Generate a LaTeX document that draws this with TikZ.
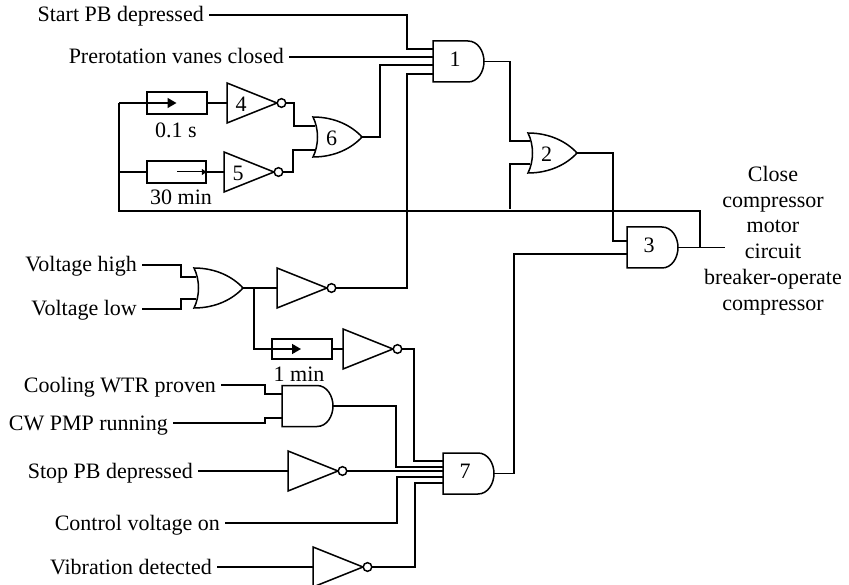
\documentclass[tikz,border=0pt]{standalone}
\usepackage{fontspec}
\setmainfont{Liberation Serif}
\usetikzlibrary{arrows.meta}
\tikzset{
    wire/.style={line width=1.5pt},
    gateline/.style={line width=1.5pt, fill=white},
    lbl/.style={inner xsep=5pt, inner ysep=0pt, text height=16pt, text depth=2pt, anchor=east},
    gatenum/.style={inner sep=0pt},
    bigtip/.style={-{Triangle[length=9pt,width=10pt]}},
    smalltip/.style={-{Triangle[length=5pt,width=6pt]}}
}
% name, left x, centre y, label
\newcommand{\andgate}[4]{
    \begin{scope}[shift={(#2,#3)}]
        \draw[gateline] (0,-20.5) -- (35,-20.5) .. controls (45,-20.5) and (51,-10) .. (51,0)
            .. controls (51,10) and (45,20.5) .. (35,20.5) -- (0,20.5) -- cycle;
        \node[gatenum] (#1) at (22,-2) {#4};
        \coordinate (#1out) at (51,0);
    \end{scope}
}
\newcommand{\orgate}[4]{
    \begin{scope}[shift={(#2,#3)}]
        \draw[gateline] (0,-20) .. controls (22,-20) and (39,-11) .. (49,0)
            .. controls (39,11) and (22,20) .. (0,20) .. controls (6,8) and (6,-8) .. (0,-20) -- cycle;
        \node[gatenum] (#1) at (18.5,1) {#4};
        \coordinate (#1out) at (49,0);
    \end{scope}
}
\newcommand{\notgate}[4]{
    \begin{scope}[shift={(#2,#3)}]
        \draw[gateline] (0,-20) -- (50,0) -- (0,20) -- cycle;
        \draw[gateline] (54.5,0) circle (4.3);
        \node[gatenum] (#1) at (14,1) {#4};
        \coordinate (#1in) at (0,0);
        \coordinate (#1out) at (58.8,0);
    \end{scope}
}
\begin{document}
\begin{tikzpicture}[x=1pt, y=-1pt, font=\fontsize{22}{26}\selectfont]
    \useasboundingbox (0,0) rectangle (849,585);

    % Gates
    \andgate{gone}{433}{61.5}{1}
    \orgate{gtwo}{528}{153}{2}
    \andgate{gthree}{627}{247.5}{3}
    \notgate{gfour}{227}{103}{4}
    \notgate{gfive}{224}{172}{5}
    \orgate{gsix}{313}{137}{6}
    \andgate{gseven}{443}{473.5}{7}
    \orgate{gvolt}{194}{288}{}
    \notgate{nvolt}{277}{288}{}
    \notgate{ndelay}{343}{349}{}
    \andgate{gcool}{282}{406}{}
    \notgate{nstop}{288}{471}{}
    \notgate{nvib}{313}{567}{}

    % Delay boxes
    \node[draw, line width=1.5pt, minimum width=60pt, minimum height=22pt, inner sep=0pt] (dfast) at (177,103) {};
    \node[draw, line width=1.5pt, minimum width=59pt, minimum height=22pt, inner sep=0pt] (dslow) at (176.5,172) {};
    \node[draw, line width=1.5pt, minimum width=60pt, minimum height=20pt, inner sep=0pt] (dmin) at (302,349) {};
    \node[inner sep=0pt] (tfast) at (176,130) {0.1 s};
    \node[inner sep=0pt] (tslow) at (181,197.5) {30 min};
    \node[inner sep=0pt] (tmin) at (299,374) {1 min};

    % Input labels
    \node[lbl] (startpb) at (209,15) {Start PB depressed};
    \node[lbl] (prerot) at (289,57) {Prerotation vanes closed};
    \node[lbl] (vhigh) at (142,265) {Voltage high};
    \node[lbl] (vlow) at (142,309) {Voltage low};
    \node[lbl] (cooling) at (221,385) {Cooling WTR proven};
    \node[lbl] (cwpmp) at (173,423) {CW PMP running};
    \node[lbl] (stoppb) at (198,471) {Stop PB depressed};
    \node[lbl] (control) at (225,523) {Control voltage on};
    \node[lbl] (vibration) at (217,567) {Vibration detected};

    % Output label
    \node[align=center, inner sep=0pt, font=\fontsize{22}{25.8}\selectfont] (closecb) at (773,240.5) {Close\\compressor\\motor\\circuit\\breaker-operate\\compressor};

    % Pins
    \coordinate (gonea) at (433,49);
    \coordinate (goneb) at (433,57);
    \coordinate (gonec) at (433,65);
    \coordinate (goned) at (433,74);
    \coordinate (gtwoa) at (530,141);
    \coordinate (gtwob) at (530,164);
    \coordinate (gtwoend) at (510,209);
    \coordinate (gthreea) at (627,241);
    \coordinate (gthreeb) at (627,254);
    \coordinate (gsixa) at (315,126);
    \coordinate (gsixb) at (315,150);
    \coordinate (gvolta) at (196,277);
    \coordinate (gvoltb) at (196,299);
    \coordinate (gcoola) at (282,394);
    \coordinate (gcoolb) at (282,418);
    \coordinate (gsevena) at (443,461);
    \coordinate (gsevenb) at (443,467);
    \coordinate (gsevenc) at (443,471);
    \coordinate (gsevend) at (443,477);
    \coordinate (gsevene) at (443,483);
    \coordinate (jtop) at (119,103);
    \coordinate (jmid) at (119,172);
    \coordinate (jbot) at (119,211);
    \coordinate (jfeed) at (700,211);
    \coordinate (jout) at (700,247.5);
    \coordinate (outend) at (725,247.5);
    \coordinate (jvolt) at (254,288);
    \coordinate (fasttip) at (176.5,103);
    \coordinate (slowstart) at (177,172);

    % Arrows
    \draw[wire] (startpb.east) -- (407,15) |- (gonea);
    \draw[wire] (prerot.east) -- (goneb);
    \draw[wire] (gsixout) -- (380,137) |- (gonec);
    \draw[wire] (nvoltout) -- (407,288) |- (goned);
    \draw[wire] (goneout) -- (510,61.5) |- (gtwoa);
    \draw[wire] (gtwoend) |- (gtwob);
    \draw[wire] (gtwoout) -- (613,153) |- (gthreea);
    \draw[wire] (gsevenout) -- (514,473.5) |- (gthreeb);
    \draw[wire] (gthreeout) -- (outend);
    \draw[wire] (jtop) -- (jbot) -- (jfeed) -- (jout);
    \draw[wire, bigtip] (jtop) -- (fasttip);
    \draw[wire] (jmid) -- (dslow.west);
    \draw[wire, smalltip, line width=1pt] (slowstart) -- (dslow.east);
    \draw[wire] (dfast.east) -- (gfourin);
    \draw[wire] (dslow.east) -- (gfivein);
    \draw[wire] (gfourout) -- (294,103) |- (gsixa);
    \draw[wire] (gfiveout) -- (293,172) |- (gsixb);
    \draw[wire] (vhigh.east) -- (181,265) |- (gvolta);
    \draw[wire] (vlow.east) -- (181,309) |- (gvoltb);
    \draw[wire] (gvoltout) -- (nvoltin);
    \draw[wire] (jvolt) |- (dmin.west);
    \draw[wire, bigtip] (dmin.west -| jvolt) -- (301,349);
    \draw[wire] (dmin.east) -- (ndelayin);
    \draw[wire] (ndelayout) -- (414,349) |- (gsevena);
    \draw[wire] (cooling.east) -- (265,385) |- (gcoola);
    \draw[wire] (cwpmp.east) -- (265,423) |- (gcoolb);
    \draw[wire] (gcoolout) -- (396,406) |- (gsevenb);
    \draw[wire] (stoppb.east) -- (nstopin);
    \draw[wire] (nstopout) -- (gsevenc);
    \draw[wire] (control.east) -- (397,523) |- (gsevend);
    \draw[wire] (vibration.east) -- (nvibin);
    \draw[wire] (nvibout) -- (415,567) |- (gsevene);
\end{tikzpicture}
\end{document}
